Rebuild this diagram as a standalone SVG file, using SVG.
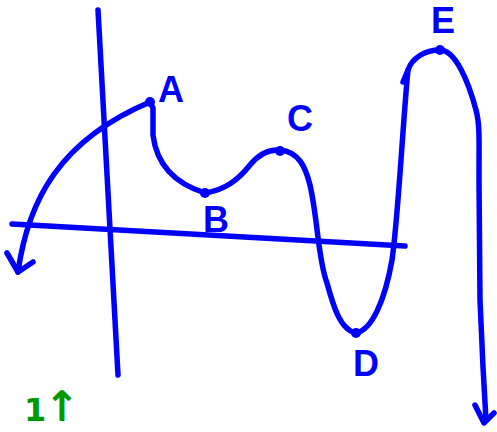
<svg xmlns="http://www.w3.org/2000/svg" width="497" height="432" viewBox="0 0 497 432">
<style>
.ln{fill:none;stroke:#0000ff;stroke-width:5.5;stroke-linecap:round;stroke-linejoin:round}
.dot{fill:#0000ff}
.lbl{font-family:"Liberation Sans",Arial,sans-serif;font-weight:bold;font-size:36px;fill:#0000ff;text-anchor:middle}
.grn{font-family:"DejaVu Sans",sans-serif;font-weight:bold;fill:#009900}
</style>
<rect width="497" height="432" fill="#ffffff"/>
<g id="axes">
<path class="ln" d="M98,10 L118,375"/>
<path class="ln" d="M12,224 L405,246"/>
</g>
<g id="curve">
<path class="ln" d="M18,272 C28,200 60,140 150,102 L153,108 L153,135 C156,160 170,182 205,193 C225,190 238,180 250,165 C258,155 268,149 280,150 C298,152 305,165 310,185 C318,220 318,260 327,283 C333,305 340,330 356,333 C372,330 385,300 392,260 C398,220 403,120 408,70 C412,58 425,50 440,50 C455,50 468,80 476,110 C480,125 479,140 479,180 L480,300 L483,367 L486,420"/>
<path class="ln" d="M403,82 L408,70"/>
<path class="ln" d="M7,253 L18,272 L33,262"/>
<path class="ln" d="M475,405 L484,423 L494,413"/>
</g>
<g id="points">
<circle class="dot" cx="150" cy="102" r="5"/>
<circle class="dot" cx="205" cy="193" r="5"/>
<circle class="dot" cx="280" cy="151" r="5"/>
<circle class="dot" cx="356" cy="333" r="5"/>
<circle class="dot" cx="440" cy="50" r="5"/>
</g>
<g id="labels">
<text class="lbl" x="171" y="102">A</text>
<text class="lbl" x="216" y="232">B</text>
<text class="lbl" x="300" y="131">C</text>
<text class="lbl" x="366" y="376">D</text>
<text class="lbl" x="443" y="33">E</text>
<text class="grn" x="24" y="421" font-size="32">1<tspan font-size="42" dx="-2">↑</tspan></text>
</g>
</svg>
